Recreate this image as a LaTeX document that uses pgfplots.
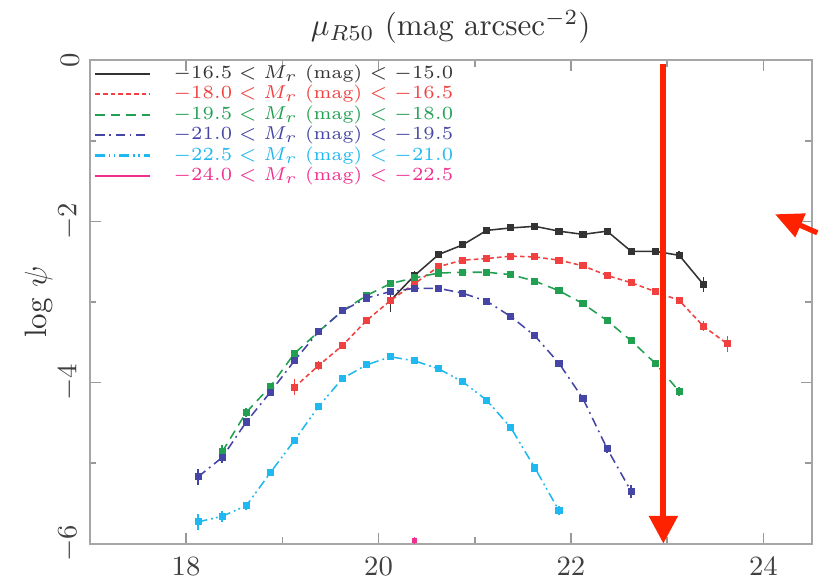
\documentclass[border=0pt]{standalone}
\usepackage{pgfplots}
\pgfplotsset{compat=1.18}
\usepackage{pgfplotstable}
\usetikzlibrary{arrows.meta}
\definecolor{cblack}{HTML}{333333}
\definecolor{cred}{HTML}{F04040}
\definecolor{cgreen}{HTML}{20A050}
\definecolor{cblue}{HTML}{4545A5}
\definecolor{ccyan}{HTML}{20B8F0}
\definecolor{cmag}{HTML}{F03090}
\definecolor{arrowred}{HTML}{FF2200}

\pgfplotstableread{
x y e
20.125 -2.98 0.14
20.375 -2.67 0.05
20.625 -2.41 0.04
20.875 -2.29 0.04
21.125 -2.11 0.04
21.375 -2.08 0.04
21.625 -2.06 0.04
21.875 -2.12 0.04
22.125 -2.16 0.04
22.375 -2.12 0.04
22.625 -2.37 0.04
22.875 -2.37 0.04
23.125 -2.42 0.05
23.375 -2.78 0.09
}\tblack
\pgfplotstableread{
x y e
19.125 -4.06 0.10
19.375 -3.79 0.06
19.625 -3.54 0.04
19.875 -3.23 0.03
20.125 -2.98 0.03
20.375 -2.77 0.03
20.625 -2.56 0.03
20.875 -2.48 0.03
21.125 -2.46 0.03
21.375 -2.43 0.03
21.625 -2.44 0.03
21.875 -2.48 0.03
22.125 -2.55 0.03
22.375 -2.67 0.03
22.625 -2.76 0.03
22.875 -2.87 0.03
23.125 -2.98 0.04
23.375 -3.30 0.06
23.625 -3.52 0.10
}\tred
\pgfplotstableread{
x y e
18.375 -4.86 0.08
18.625 -4.37 0.06
18.875 -4.05 0.04
19.125 -3.64 0.03
19.375 -3.37 0.03
19.625 -3.11 0.03
19.875 -2.92 0.03
20.125 -2.77 0.03
20.375 -2.70 0.03
20.625 -2.64 0.03
20.875 -2.63 0.03
21.125 -2.63 0.03
21.375 -2.66 0.03
21.625 -2.74 0.03
21.875 -2.86 0.03
22.125 -3.02 0.03
22.375 -3.23 0.03
22.625 -3.48 0.03
22.875 -3.76 0.04
23.125 -4.11 0.06
}\tgreen
\pgfplotstableread{
x y e
18.125 -5.17 0.10
18.375 -4.93 0.07
18.625 -4.49 0.04
18.875 -4.12 0.03
19.125 -3.73 0.03
19.375 -3.37 0.03
19.625 -3.11 0.03
19.875 -2.95 0.03
20.125 -2.87 0.03
20.375 -2.83 0.03
20.625 -2.83 0.03
20.875 -2.89 0.03
21.125 -2.99 0.03
21.375 -3.18 0.03
21.625 -3.42 0.03
21.875 -3.76 0.03
22.125 -4.20 0.04
22.375 -4.82 0.05
22.625 -5.35 0.08
}\tblue
\pgfplotstableread{
x y e
18.125 -5.73 0.10
18.375 -5.66 0.07
18.625 -5.53 0.05
18.875 -5.12 0.03
19.125 -4.72 0.03
19.375 -4.30 0.03
19.625 -3.95 0.03
19.875 -3.78 0.03
20.125 -3.68 0.03
20.375 -3.73 0.03
20.625 -3.83 0.03
20.875 -3.99 0.03
21.125 -4.22 0.03
21.375 -4.56 0.03
21.625 -5.06 0.04
21.875 -5.59 0.06
}\tcyan
\pgfplotstableread{
x y e
20.375 -5.96 0.04
}\tmag

\begin{document}
\begin{tikzpicture}
\begin{axis}[
  width=233pt, height=156pt, scale only axis,
  xmin=17, xmax=24.5, ymin=-6, ymax=0,
  xtick={18,20,22,24}, minor x tick num=1,
  ytick={-6,-4,-2,0}, minor y tick num=1,
  tick align=inside,
  major tick length=3.5pt, minor tick length=2pt,
  axis line style={gray!70, line width=0.6pt},
  every tick/.style={gray!80, line width=0.5pt},
  ticklabel style={text=black!75, font=\small},
  yticklabel style={rotate=90, anchor=south},
  xticklabel style={yshift=-1pt},
  ylabel={log $\psi$},
  ylabel style={text=black!80, at={(axis description cs:0,0.5)}, anchor=center, yshift=16.5pt},
  title={$\mu_{R50}$ (mag arcsec$^{-2}$)},
  title style={text=black!80, yshift=-4pt},
  clip=false,
  legend cell align=left,
  legend style={at={(0,1)}, anchor=north west, xshift=1.2pt, yshift=-1pt,
    draw=none, fill=none,
    font=\fontsize{5.8}{6}\selectfont, row sep=0.4pt, inner sep=0pt,
    nodes={inner sep=0.4pt, text height=4.2pt, text depth=1.2pt}},
  legend image code/.code={\draw[#1, line width=0.7pt] (0pt,0pt) -- (17.7pt,0pt); \path[draw=none] (0pt,0pt) -- (24.8pt,0pt);},
  every axis plot/.append style={line width=0.5pt, mark=square*, mark size=0.9pt,
    mark options={solid},
    error bars/y dir=both, error bars/y explicit, error bars/error mark=none,
    error bars/error bar style={solid, line width=0.5pt}},
]
\addplot[color=cblack, solid] table[x=x, y=y, y error=e] {\tblack};
\addlegendentry{\textcolor{cblack}{$-16.5 < M_r$ (mag) $< -15.0$}}
\addplot[color=cred, dash pattern=on 1.5pt off 1pt] table[x=x, y=y, y error=e] {\tred};
\addlegendentry{\textcolor{cred}{$-18.0 < M_r$ (mag) $< -16.5$}}
\addplot[color=cgreen, dash pattern=on 3pt off 2pt] table[x=x, y=y, y error=e] {\tgreen};
\addlegendentry{\textcolor{cgreen}{$-19.5 < M_r$ (mag) $< -18.0$}}
\addplot[color=cblue, dash pattern=on 3pt off 1.5pt on 0.6pt off 1.5pt] table[x=x, y=y, y error=e] {\tblue};
\addlegendentry{\textcolor{cblue}{$-21.0 < M_r$ (mag) $< -19.5$}}
\addplot[color=ccyan, dash pattern=on 3pt off 1.3pt on 0.6pt off 1pt on 0.6pt off 1.3pt] table[x=x, y=y, y error=e] {\tcyan};
\addlegendentry{\textcolor{ccyan}{$-22.5 < M_r$ (mag) $< -21.0$}}
\addplot[color=cmag, solid, mark size=0.5pt] table[x=x, y=y, y error=e] {\tmag};
\addlegendentry{\textcolor{cmag}{$-24.0 < M_r$ (mag) $< -22.5$}}
\draw[arrowred, line width=1.9pt, -{Triangle[width=9pt,length=9pt]}]
  (axis cs:22.96,-0.04) -- (axis cs:22.96,-6.0);
\draw[arrowred, line width=1.7pt, -{Triangle[width=8pt,length=9pt]}]
  (axis cs:24.56,-2.14) -- (axis cs:24.12,-1.91);
\path (rel axis cs:0,0) ++(-29pt,-13.2pt) (rel axis cs:1,1);
\end{axis}
\end{tikzpicture}
\end{document}
